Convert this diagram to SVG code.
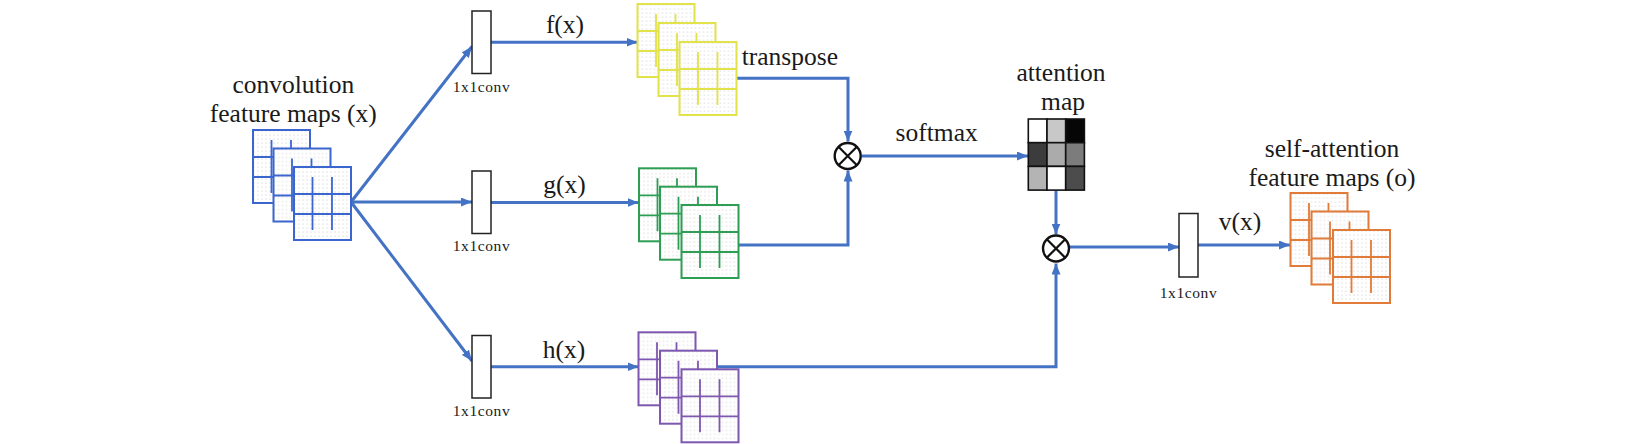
<svg xmlns="http://www.w3.org/2000/svg" xmlns:xlink="http://www.w3.org/1999/xlink" width="1646" height="444" viewBox="0 0 1646 444">
<style>
  .lbl { font-family: "Liberation Serif", "Times New Roman", serif; font-size: 25.5px; fill: #1a1a1a; text-anchor: middle; }
  .small { font-family: "Liberation Serif", "Times New Roman", serif; font-size: 15.5px; letter-spacing: 0.6px; fill: #1a1a1a; text-anchor: middle; }
  .conn { fill: none; stroke: #4472C4; stroke-width: 3; }
  .conv { fill: #fff; stroke: #222; stroke-width: 1.5; }
  .op circle { fill: #fff; stroke: #111; stroke-width: 2.4; }
  .op path { stroke: #111; stroke-width: 2.2; fill: none; }
  .att rect { stroke: #111; stroke-width: 1.6; }
</style>
<defs>
  <pattern id="dots" width="4" height="4" patternUnits="userSpaceOnUse">
    <rect width="4" height="4" fill="#fff"/>
    <circle cx="1" cy="1" r="0.6" fill="#c4c4c4"/>
  </pattern>
  <marker id="arrow" markerUnits="userSpaceOnUse" markerWidth="11" markerHeight="9" refX="11" refY="4.5" orient="auto">
    <path d="M0,0 L11,4.5 L0,9 z" fill="#4472C4"/>
  </marker>
  <g id="card">
    <rect x="0" y="0" width="57" height="73" fill="url(#dots)" stroke="currentColor" stroke-width="2"/>
    <path d="M0 27H57M0 47H57M18.5 10V63M38 10V63" stroke="currentColor" stroke-width="1.8" fill="none"/>
  </g>
</defs>
<rect width="1646" height="444" fill="#fff"/>

<g id="connectors">
  <path class="conn" d="M351 202 L472 46.5" marker-end="url(#arrow)"/>
  <path class="conn" d="M351 202 L472 202" marker-end="url(#arrow)"/>
  <path class="conn" d="M351 202 L472 361" marker-end="url(#arrow)"/>
  <path class="conn" d="M491 42.3 L637.5 42.3" marker-end="url(#arrow)"/>
  <path class="conn" d="M491 202.5 L638.5 202.5" marker-end="url(#arrow)"/>
  <path class="conn" d="M491 366.7 L638.5 366.7" marker-end="url(#arrow)"/>
  <path class="conn" d="M737 78.3 H848 V141.5" marker-end="url(#arrow)"/>
  <path class="conn" d="M738 245 H848 V170.5" marker-end="url(#arrow)"/>
  <path class="conn" d="M862 156 H1028" marker-end="url(#arrow)"/>
  <path class="conn" d="M1056 190.5 V234.5" marker-end="url(#arrow)"/>
  <path class="conn" d="M716.7 366.7 H1056 V263.5" marker-end="url(#arrow)"/>
  <path class="conn" d="M1070 247 H1179" marker-end="url(#arrow)"/>
  <path class="conn" d="M1198 245 H1290" marker-end="url(#arrow)"/>
</g>

<g id="input-maps" style="color:#3B66D0">
  <text class="lbl" x="293.3" y="93.3">convolution</text>
  <text class="lbl" x="293.3" y="121.7">feature maps (x)</text>
  <use xlink:href="#card" x="253" y="130"/>
  <use xlink:href="#card" x="273.5" y="148.5"/>
  <use xlink:href="#card" x="294" y="167"/>
</g>

<g id="conv-f">
  <rect class="conv" x="472" y="11" width="19" height="62.5"/>
  <text class="small" x="481.5" y="91.7">1x1conv</text>
</g>
<g id="conv-g">
  <rect class="conv" x="472" y="171" width="19" height="62.5"/>
  <text class="small" x="481.5" y="251">1x1conv</text>
</g>
<g id="conv-h">
  <rect class="conv" x="472" y="335.5" width="19" height="62.5"/>
  <text class="small" x="481.5" y="416">1x1conv</text>
</g>

<g id="labels">
  <text class="lbl" x="565" y="33">f(x)</text>
  <text class="lbl" x="564.5" y="193.3">g(x)</text>
  <text class="lbl" x="564" y="357.5">h(x)</text>
  <text class="lbl" x="741.7" y="65" style="text-anchor:start">transpose</text>
  <text class="lbl" x="936.7" y="140.7">softmax</text>
  <text class="lbl" x="1240" y="230">v(x)</text>
</g>

<g id="f-maps" style="color:#E2E24A">
  <use xlink:href="#card" x="637.5" y="4"/>
  <use xlink:href="#card" x="658.5" y="23"/>
  <use xlink:href="#card" x="679.5" y="42"/>
</g>
<g id="g-maps" style="color:#2E9E55">
  <use xlink:href="#card" x="639" y="168.3"/>
  <use xlink:href="#card" x="660" y="186.7"/>
  <use xlink:href="#card" x="681.5" y="205"/>
</g>
<g id="h-maps" style="color:#7E57B0">
  <use xlink:href="#card" x="638.5" y="332.3"/>
  <use xlink:href="#card" x="660" y="350.7"/>
  <use xlink:href="#card" x="681.5" y="369.3"/>
</g>

<g id="mult-1" class="op">
  <circle cx="847.7" cy="156" r="13"/>
  <path d="M838.5 146.8 L856.9 165.2 M856.9 146.8 L838.5 165.2"/>
</g>

<g id="attention-map" class="att">
  <text class="lbl" x="1061" y="80.7">attention</text>
  <text class="lbl" x="1063" y="109.5">map</text>
  <rect x="1028.3" y="119" width="18.7" height="23.7" fill="#ffffff"/>
  <rect x="1047" y="119" width="18.7" height="23.7" fill="#c8c8c8"/>
  <rect x="1065.7" y="119" width="18.7" height="23.7" fill="#060606"/>
  <rect x="1028.3" y="142.7" width="18.7" height="23.7" fill="#3c3c3c"/>
  <rect x="1047" y="142.7" width="18.7" height="23.7" fill="#ababab"/>
  <rect x="1065.7" y="142.7" width="18.7" height="23.7" fill="#7c7c7c"/>
  <rect x="1028.3" y="166.4" width="18.7" height="23.7" fill="#b4b4b4"/>
  <rect x="1047" y="166.4" width="18.7" height="23.7" fill="#ffffff"/>
  <rect x="1065.7" y="166.4" width="18.7" height="23.7" fill="#4c4c4c"/>
</g>

<g id="mult-2" class="op">
  <circle cx="1056" cy="248.5" r="13"/>
  <path d="M1046.8 239.3 L1065.2 257.7 M1065.2 239.3 L1046.8 257.7"/>
</g>

<g id="conv-v">
  <rect class="conv" x="1179" y="213.5" width="19" height="63.5"/>
  <text class="small" x="1188.5" y="298">1x1conv</text>
</g>

<g id="output-maps" style="color:#E07B39">
  <text class="lbl" x="1332" y="156.7">self-attention</text>
  <text class="lbl" x="1332" y="186">feature maps (o)</text>
  <use xlink:href="#card" x="1290.5" y="193"/>
  <use xlink:href="#card" x="1311.5" y="211.5"/>
  <use xlink:href="#card" x="1333" y="230"/>
</g>
</svg>
